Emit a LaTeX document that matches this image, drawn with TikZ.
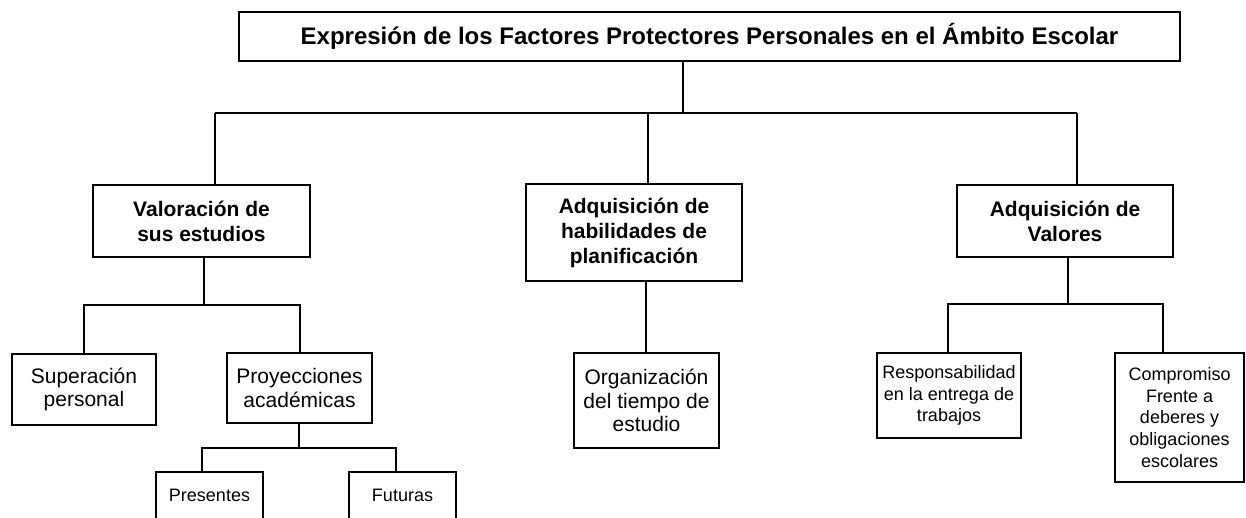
\documentclass[tikz,border=0pt]{standalone}
\usepackage{fontspec}
\setmainfont{Liberation Sans}
\begin{document}
\begin{tikzpicture}[x=1pt,y=-1pt,
  box/.style={draw=black,line width=1.7pt,inner sep=0pt,align=center,fill=white},
  conn/.style={draw=black,line width=1.5pt},
  bigb/.style={font=\fontsize{21}{25}\selectfont\bfseries},
  big/.style={font=\fontsize{21}{23.5}\selectfont},
  small/.style={font=\fontsize{18}{21.7}\selectfont}]
\useasboundingbox (0,0) rectangle (1246,517);
\clip (0,0) rectangle (1246,517);
\fill[white] (0,0) rectangle (1246,517);
% nodes
\node[box,minimum width=941pt,minimum height=49pt,font=\fontsize{24}{28}\selectfont\bfseries] (title) at (709.5,36.5) {Expresión de los Factores Protectores Personales en el Ámbito Escolar};
\node[box,bigb,minimum width=217pt,minimum height=72pt] (val) at (201.5,221) {Valoración de\\sus estudios};
\node[box,bigb,minimum width=216pt,minimum height=97pt] (hab) at (634,232.5) {Adquisición de\\habilidades de\\planificación};
\node[box,bigb,minimum width=216pt,minimum height=72pt] (vals) at (1065,221) {Adquisición de\\Valores};
\node[box,big,minimum width=144pt,minimum height=71pt] (sup) at (84,389.5) {Superación\\personal};
\node[box,big,minimum width=145pt,minimum height=70pt] (proy) at (299.5,388) {Proyecciones\\académicas};
\node[box,big,minimum width=145pt,minimum height=95pt] (org) at (646.5,400.5) {Organización\\del tiempo de\\estudio};
\node[box,small,minimum width=144pt,minimum height=85pt] (resp) at (949,395.5) {Responsabilidad\\en la entrega de\\trabajos};
\node[box,small,minimum width=129pt,minimum height=129pt] (comp) at (1179.5,417.5) {Compromiso\\Frente a\\deberes y\\obligaciones\\escolares};
\node[box,small,minimum width=107pt,minimum height=47pt] (pres) at (209.5,495.5) {Presentes};
\node[box,small,minimum width=107pt,minimum height=47pt] (fut) at (402.5,495.5) {Futuras};
% junction coordinates
\coordinate (j0) at (683,113);
\coordinate (jl) at (215,113);
\coordinate (jm) at (648,113);
\coordinate (jr) at (1077,113);
\coordinate (k0) at (204,305);
\coordinate (kl) at (84,305);
\coordinate (kr) at (300,305);
\coordinate (p0) at (299,448);
\coordinate (pl) at (202,448);
\coordinate (pr) at (396,448);
\coordinate (r0) at (1068,304);
\coordinate (rl) at (948,304);
\coordinate (rr) at (1163,304);
\coordinate (m0) at (646,300);
% connectors
\draw[conn] (title.south -| j0) -- (j0);
\draw[conn] (jl) -- (jr);
\draw[conn] (jl) -- (jl |- val.north);
\draw[conn] (jm) -- (jm |- hab.north);
\draw[conn] (jr) -- (jr |- vals.north);
\draw[conn] (val.south -| k0) -- (k0);
\draw[conn] (kl |- sup.north) -- (kl) -- (kr) -- (kr |- proy.north);
\draw[conn] (proy.south -| p0) -- (p0);
\draw[conn] (pl |- pres.north) -- (pl) -- (pr) -- (pr |- fut.north);
\draw[conn] (hab.south -| m0) -- (m0 |- org.north);
\draw[conn] (vals.south -| r0) -- (r0);
\draw[conn] (rl |- resp.north) -- (rl) -- (rr) -- (rr |- comp.north);
\end{tikzpicture}
\end{document}
